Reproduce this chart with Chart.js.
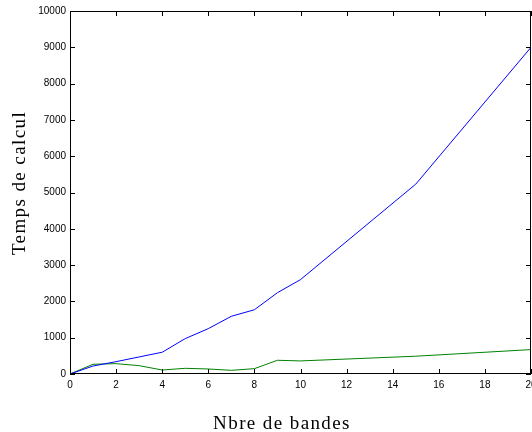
<!DOCTYPE html>
<html>
<head>
<meta charset="utf-8">
<script src="https://cdn.jsdelivr.net/npm/chart.js@4/dist/chart.umd.min.js"></script>
<style>
  html, body { margin: 0; padding: 0; background: #fff; }
  #wrap { width: 532px; height: 432px; }
</style>
</head>
<body>
<div id="wrap"><canvas id="canvas" width="532" height="432"></canvas></div>
<script>
// data
var nbreBandes = [0, 1, 2, 3, 4, 5, 6, 7, 8, 9, 10, 15, 20];
var tempsBleu = [0, 220, 340, 470, 600, 975, 1250, 1590, 1770, 2240, 2600, 5230, 9000];
var tempsVert = [0, 268, 285, 230, 110, 157, 138, 101, 147, 378, 360, 490, 672];
var xTicks = [0, 2, 4, 6, 8, 10, 12, 14, 16, 18, 20];
var yTicks = [0, 1000, 2000, 3000, 4000, 5000, 6000, 7000, 8000, 9000, 10000];

function toPoints(xs, ys) {
    var pts = [];
    for (var i = 0; i < xs.length; i++) {
        pts.push({ x: xs[i], y: ys[i] });
    }
    return pts;
}

// frame, inward ticks on four sides, axis titles
var framePlugin = {
    id: 'frame',
    afterDraw: function (chart) {
        var ctx = chart.ctx;
        var a = chart.chartArea;
        var xs = chart.scales.x, ys = chart.scales.y;
        ctx.save();
        ctx.strokeStyle = '#000';
        ctx.lineWidth = 1;
        ctx.strokeRect(Math.round(a.left) + 0.5, Math.round(a.top) + 0.5,
            Math.round(a.right - a.left) - 1, Math.round(a.bottom - a.top) - 1);
        ctx.beginPath();
        xTicks.forEach(function (v) {
            var px = Math.round(xs.getPixelForValue(v)) + 0.5;
            ctx.moveTo(px, a.bottom); ctx.lineTo(px, a.bottom - 5);
            ctx.moveTo(px, a.top); ctx.lineTo(px, a.top + 5);
        });
        yTicks.forEach(function (v) {
            var py = Math.round(ys.getPixelForValue(v)) + 0.5;
            ctx.moveTo(a.left, py); ctx.lineTo(a.left + 5, py);
            ctx.moveTo(a.right, py); ctx.lineTo(a.right - 5, py);
        });
        ctx.stroke();

        ctx.fillStyle = '#000';
        ctx.font = '19px "Liberation Serif", "DejaVu Serif", serif';
        ctx.letterSpacing = '1.4px';
        ctx.textAlign = 'center';
        ctx.textBaseline = 'alphabetic';
        ctx.fillText('Nbre de bandes', 282, 429);
        ctx.translate(25, 183);
        ctx.rotate(-Math.PI / 2);
        ctx.fillText('Temps de calcul', 0, 0);
        ctx.restore();
    }
};

var ctx = document.getElementById("canvas").getContext("2d");
var myLine = new Chart(ctx, {
    type: 'line',
    data: {
        datasets: [
            {
                data: toPoints(nbreBandes, tempsBleu),
                borderColor: '#0000ff',
                borderWidth: 1,
                pointRadius: 0,
                tension: 0,
                fill: false
            },
            {
                data: toPoints(nbreBandes, tempsVert),
                borderColor: '#008000',
                borderWidth: 1,
                pointRadius: 0,
                tension: 0,
                fill: false
            }
        ]
    },
    options: {
        responsive: false,
        animation: false,
        events: [],
        layout: { padding: { top: 11, right: 1, left: 0, bottom: 0 } },
        plugins: {
            legend: { display: false },
            tooltip: { enabled: false }
        },
        scales: {
            x: {
                type: 'linear',
                min: 0,
                max: 20,
                afterFit: function (s) {
                    s.height = 58;
                    s.paddingLeft = 0;
                    s.paddingRight = 0;
                },
                afterBuildTicks: function (s) {
                    s.ticks = xTicks.map(function (v) { return { value: v }; });
                },
                grid: { display: false, drawTicks: false, tickLength: 0 },
                border: { display: false },
                ticks: {
                    color: '#000',
                    padding: 5,
                    maxRotation: 0,
                    autoSkip: false,
                    font: { family: '"Liberation Sans", Arial, sans-serif', size: 10 }
                }
            },
            y: {
                type: 'linear',
                min: 0,
                max: 10000,
                afterFit: function (s) {
                    s.width = 70;
                    s.paddingTop = 0;
                    s.paddingBottom = 0;
                },
                afterBuildTicks: function (s) {
                    s.ticks = yTicks.map(function (v) { return { value: v }; });
                },
                grid: { display: false, drawTicks: false, tickLength: 0 },
                border: { display: false },
                ticks: {
                    color: '#000',
                    padding: 4,
                    autoSkip: false,
                    font: { family: '"Liberation Sans", Arial, sans-serif', size: 10 },
                    callback: function (v) { return String(v); }
                }
            }
        }
    },
    plugins: [framePlugin]
});
</script>
</body>
</html>
